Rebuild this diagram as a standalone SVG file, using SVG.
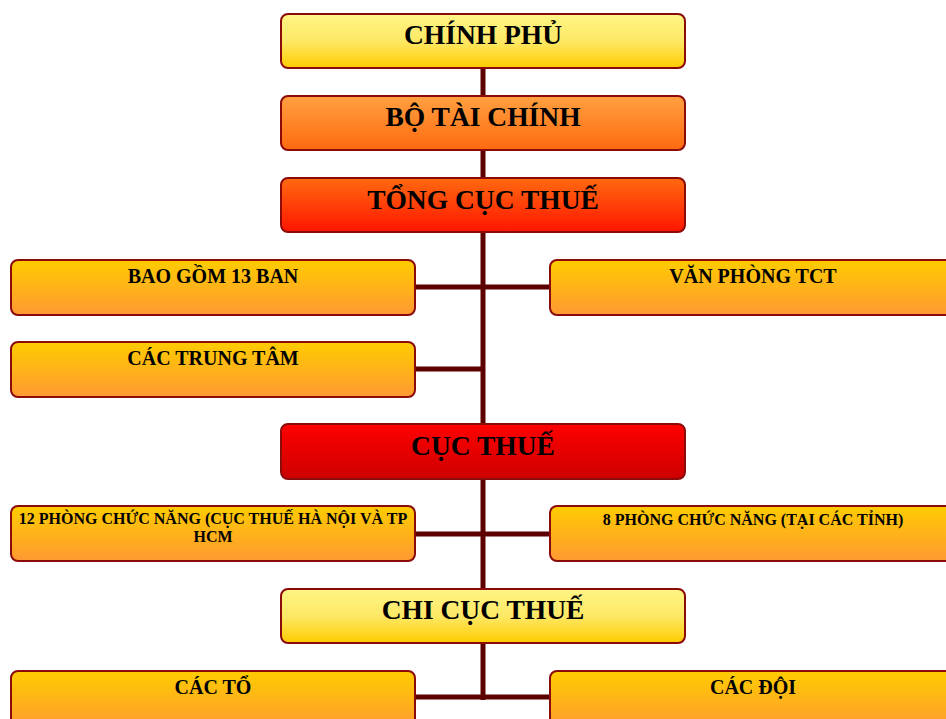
<svg xmlns="http://www.w3.org/2000/svg" width="946" height="719" viewBox="0 0 946 719">
<defs>
<linearGradient id="gYellow" x1="0" y1="0" x2="0" y2="1"><stop offset="0" stop-color="#fff585"/><stop offset="0.5" stop-color="#fde866"/><stop offset="1" stop-color="#ffcc00"/></linearGradient>
<linearGradient id="gOrange" x1="0" y1="0" x2="0" y2="1"><stop offset="0" stop-color="#ffa040"/><stop offset="1" stop-color="#ff6a10"/></linearGradient>
<linearGradient id="gDeep" x1="0" y1="0" x2="0" y2="1"><stop offset="0" stop-color="#ff6a10"/><stop offset="1" stop-color="#ff1500"/></linearGradient>
<linearGradient id="gRed" x1="0" y1="0" x2="0" y2="1"><stop offset="0" stop-color="#ff0000"/><stop offset="1" stop-color="#cc0000"/></linearGradient>
<linearGradient id="gSub" x1="0" y1="0" x2="0" y2="1"><stop offset="0" stop-color="#ffcc00"/><stop offset="1" stop-color="#ff9933"/></linearGradient>
</defs>
<style>
.box{stroke:#8b0a0a;stroke-width:2}
.big{font-family:"Liberation Serif","Times New Roman",serif;font-weight:bold;font-size:27.5px;fill:#000;text-anchor:middle}
.mid{font-family:"Liberation Serif","Times New Roman",serif;font-weight:bold;font-size:20px;fill:#000;text-anchor:middle}
.sm{font-family:"Liberation Serif","Times New Roman",serif;font-weight:bold;font-size:16px;fill:#000;text-anchor:middle}
.conn{stroke:#5c0000;stroke-width:5;fill:none}
</style>
<rect width="946" height="719" fill="#ffffff"/>
<g id="connectors">
<line class="conn" x1="483" y1="68" x2="483" y2="700"/>
<line class="conn" x1="415" y1="287" x2="550" y2="287"/>
<line class="conn" x1="415" y1="369" x2="483" y2="369"/>
<line class="conn" x1="415" y1="534" x2="550" y2="534"/>
<line class="conn" x1="415" y1="697" x2="550" y2="697"/>
</g>
<g id="chinh-phu"><rect class="box" x="281" y="14" width="404" height="54" rx="7" fill="url(#gYellow)"/><text class="big" x="483" y="44">CHÍNH PHỦ</text></g>
<g id="bo-tai-chinh"><rect class="box" x="281" y="96" width="404" height="54" rx="7" fill="url(#gOrange)"/><text class="big" x="483" y="126">BỘ TÀI CHÍNH</text></g>
<g id="tong-cuc-thue"><rect class="box" x="281" y="178" width="404" height="54" rx="7" fill="url(#gDeep)"/><text class="big" x="483" y="209">TỔNG CỤC THUẾ</text></g>
<g id="bao-gom-13-ban"><rect class="box" x="11" y="260" width="404" height="55" rx="7" fill="url(#gSub)"/><text class="mid" x="213" y="283">BAO GỒM 13 BAN</text></g>
<g id="van-phong-tct"><rect class="box" x="550" y="260" width="410" height="55" rx="7" fill="url(#gSub)"/><text class="mid" x="753" y="283">VĂN PHÒNG TCT</text></g>
<g id="cac-trung-tam"><rect class="box" x="11" y="342" width="404" height="55" rx="7" fill="url(#gSub)"/><text class="mid" x="213" y="365">CÁC TRUNG TÂM</text></g>
<g id="cuc-thue"><rect class="box" x="281" y="424" width="404" height="55" rx="7" fill="url(#gRed)"/><text class="big" x="483" y="455">CỤC THUẾ</text></g>
<g id="phong-12"><rect class="box" x="11" y="506" width="404" height="55" rx="7" fill="url(#gSub)"/><text class="sm" x="213" y="524">12 PHÒNG CHỨC NĂNG (CỤC THUẾ HÀ NỘI VÀ TP</text><text class="sm" x="213" y="542">HCM</text></g>
<g id="phong-8"><rect class="box" x="550" y="506" width="410" height="55" rx="7" fill="url(#gSub)"/><text class="sm" x="753" y="525">8 PHÒNG CHỨC NĂNG (TẠI CÁC TỈNH)</text></g>
<g id="chi-cuc-thue"><rect class="box" x="281" y="589" width="404" height="54" rx="7" fill="url(#gYellow)"/><text class="big" x="483" y="619">CHI CỤC THUẾ</text></g>
<g id="cac-to"><rect class="box" x="11" y="671" width="404" height="60" rx="7" fill="url(#gSub)"/><text class="mid" x="213" y="694">CÁC TỔ</text></g>
<g id="cac-doi"><rect class="box" x="550" y="671" width="410" height="60" rx="7" fill="url(#gSub)"/><text class="mid" x="753" y="694">CÁC ĐỘI</text></g>
</svg>
